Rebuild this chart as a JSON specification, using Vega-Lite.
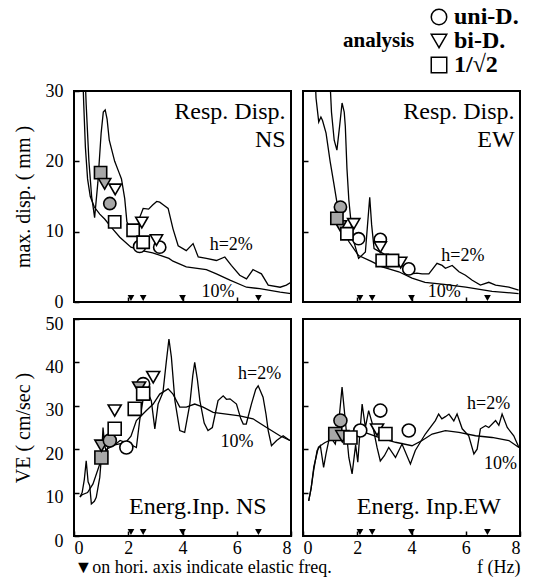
{
"$schema": "https://vega.github.io/schema/vega-lite/v6.json",
"padding": {"left": 12, "top": 4, "right": 4, "bottom": 0},
"background": "white",
"datasets": {
"lines": [
{"p":"NSd","h":"2%","f":0.38,"v":35},{"p":"NSd","h":"2%","f":0.45,"v":28},{"p":"NSd","h":"2%","f":0.55,"v":20},{"p":"NSd","h":"2%","f":0.65,"v":15},{"p":"NSd","h":"2%","f":0.76,"v":12},{"p":"NSd","h":"2%","f":0.88,"v":17},{"p":"NSd","h":"2%","f":1.0,"v":24},{"p":"NSd","h":"2%","f":1.08,"v":27},{"p":"NSd","h":"2%","f":1.15,"v":27.3},{"p":"NSd","h":"2%","f":1.22,"v":26},{"p":"NSd","h":"2%","f":1.3,"v":23},{"p":"NSd","h":"2%","f":1.5,"v":20},{"p":"NSd","h":"2%","f":1.65,"v":18.5},{"p":"NSd","h":"2%","f":1.75,"v":17.5},{"p":"NSd","h":"2%","f":1.87,"v":14.7},{"p":"NSd","h":"2%","f":1.95,"v":11.4},{"p":"NSd","h":"2%","f":2.1,"v":10.2},{"p":"NSd","h":"2%","f":2.3,"v":9.8},{"p":"NSd","h":"2%","f":2.42,"v":12},{"p":"NSd","h":"2%","f":2.55,"v":13.3},{"p":"NSd","h":"2%","f":2.75,"v":13.2},{"p":"NSd","h":"2%","f":2.9,"v":13.8},{"p":"NSd","h":"2%","f":3.05,"v":14.3},{"p":"NSd","h":"2%","f":3.16,"v":14.2},{"p":"NSd","h":"2%","f":3.3,"v":13.8},{"p":"NSd","h":"2%","f":3.47,"v":13.3},{"p":"NSd","h":"2%","f":3.65,"v":10.4},{"p":"NSd","h":"2%","f":3.84,"v":8.0},{"p":"NSd","h":"2%","f":4.14,"v":7.3},{"p":"NSd","h":"2%","f":4.39,"v":8.3},{"p":"NSd","h":"2%","f":4.58,"v":6.4},{"p":"NSd","h":"2%","f":4.88,"v":6.2},{"p":"NSd","h":"2%","f":5.25,"v":5.9},{"p":"NSd","h":"2%","f":5.56,"v":6.4},{"p":"NSd","h":"2%","f":5.8,"v":5.2},{"p":"NSd","h":"2%","f":6.11,"v":3.8},{"p":"NSd","h":"2%","f":6.36,"v":3.3},{"p":"NSd","h":"2%","f":6.6,"v":4.6},{"p":"NSd","h":"2%","f":6.91,"v":4.0},{"p":"NSd","h":"2%","f":7.16,"v":2.4},{"p":"NSd","h":"2%","f":7.6,"v":2.1},{"p":"NSd","h":"2%","f":7.83,"v":2.4},{"p":"NSd","h":"2%","f":8.0,"v":2.8},
{"p":"NSd","h":"10%","f":0.3,"v":35},{"p":"NSd","h":"10%","f":0.36,"v":28},{"p":"NSd","h":"10%","f":0.42,"v":22},{"p":"NSd","h":"10%","f":0.5,"v":17.5},{"p":"NSd","h":"10%","f":0.6,"v":15},{"p":"NSd","h":"10%","f":0.75,"v":13.5},{"p":"NSd","h":"10%","f":0.95,"v":12.5},{"p":"NSd","h":"10%","f":1.13,"v":11.8},{"p":"NSd","h":"10%","f":1.4,"v":10.5},{"p":"NSd","h":"10%","f":1.69,"v":9.2},{"p":"NSd","h":"10%","f":2.1,"v":7.8},{"p":"NSd","h":"10%","f":2.5,"v":7.3},{"p":"NSd","h":"10%","f":2.9,"v":7.0},{"p":"NSd","h":"10%","f":3.5,"v":6.2},{"p":"NSd","h":"10%","f":3.65,"v":5.8},{"p":"NSd","h":"10%","f":4.14,"v":5.0},{"p":"NSd","h":"10%","f":4.88,"v":4.6},{"p":"NSd","h":"10%","f":5.25,"v":4.0},{"p":"NSd","h":"10%","f":5.75,"v":3.1},{"p":"NSd","h":"10%","f":6.36,"v":2.1},{"p":"NSd","h":"10%","f":6.85,"v":1.9},{"p":"NSd","h":"10%","f":7.6,"v":1.4},{"p":"NSd","h":"10%","f":8.0,"v":1.2},
{"p":"EWd","h":"10%","f":0.42,"v":35},{"p":"EWd","h":"10%","f":0.48,"v":29},{"p":"EWd","h":"10%","f":0.58,"v":25.6},{"p":"EWd","h":"10%","f":0.66,"v":26.3},{"p":"EWd","h":"10%","f":0.72,"v":25.8},{"p":"EWd","h":"10%","f":0.85,"v":24},{"p":"EWd","h":"10%","f":1.0,"v":20},{"p":"EWd","h":"10%","f":1.13,"v":17},{"p":"EWd","h":"10%","f":1.3,"v":13},{"p":"EWd","h":"10%","f":1.45,"v":11},{"p":"EWd","h":"10%","f":1.69,"v":8.6},{"p":"EWd","h":"10%","f":2.05,"v":6.6},{"p":"EWd","h":"10%","f":2.5,"v":5.8},{"p":"EWd","h":"10%","f":2.92,"v":5.0},{"p":"EWd","h":"10%","f":3.53,"v":4.3},{"p":"EWd","h":"10%","f":4.02,"v":3.4},{"p":"EWd","h":"10%","f":4.5,"v":2.8},{"p":"EWd","h":"10%","f":5.2,"v":2.5},{"p":"EWd","h":"10%","f":6.0,"v":2.1},{"p":"EWd","h":"10%","f":6.97,"v":1.5},{"p":"EWd","h":"10%","f":7.95,"v":1.2},
{"p":"EWd","h":"2%","f":0.95,"v":35},{"p":"EWd","h":"2%","f":1.05,"v":27},{"p":"EWd","h":"2%","f":1.15,"v":23},{"p":"EWd","h":"2%","f":1.25,"v":21.6},{"p":"EWd","h":"2%","f":1.35,"v":25},{"p":"EWd","h":"2%","f":1.44,"v":28.3},{"p":"EWd","h":"2%","f":1.52,"v":27},{"p":"EWd","h":"2%","f":1.56,"v":25},{"p":"EWd","h":"2%","f":1.62,"v":19},{"p":"EWd","h":"2%","f":1.69,"v":14.5},{"p":"EWd","h":"2%","f":1.78,"v":11},{"p":"EWd","h":"2%","f":1.88,"v":8.5},{"p":"EWd","h":"2%","f":2.05,"v":6.2},{"p":"EWd","h":"2%","f":2.3,"v":7.1},{"p":"EWd","h":"2%","f":2.38,"v":11},{"p":"EWd","h":"2%","f":2.46,"v":14.9},{"p":"EWd","h":"2%","f":2.53,"v":11},{"p":"EWd","h":"2%","f":2.62,"v":7.6},{"p":"EWd","h":"2%","f":2.8,"v":7.2},{"p":"EWd","h":"2%","f":3.0,"v":6.8},{"p":"EWd","h":"2%","f":3.3,"v":6.5},{"p":"EWd","h":"2%","f":3.6,"v":5.5},{"p":"EWd","h":"2%","f":3.8,"v":4.5},{"p":"EWd","h":"2%","f":4.0,"v":4.0},{"p":"EWd","h":"2%","f":4.2,"v":4.1},{"p":"EWd","h":"2%","f":4.39,"v":4.0},{"p":"EWd","h":"2%","f":4.64,"v":4.0},{"p":"EWd","h":"2%","f":4.94,"v":5.5},{"p":"EWd","h":"2%","f":5.13,"v":5.2},{"p":"EWd","h":"2%","f":5.25,"v":4.8},{"p":"EWd","h":"2%","f":5.5,"v":5.2},{"p":"EWd","h":"2%","f":5.75,"v":4.3},{"p":"EWd","h":"2%","f":5.99,"v":3.8},{"p":"EWd","h":"2%","f":6.24,"v":3.1},{"p":"EWd","h":"2%","f":6.54,"v":2.4},{"p":"EWd","h":"2%","f":6.85,"v":2.8},{"p":"EWd","h":"2%","f":7.1,"v":2.4},{"p":"EWd","h":"2%","f":7.59,"v":2.1},{"p":"EWd","h":"2%","f":7.95,"v":1.7},
{"p":"NSe","h":"2%","f":0.22,"v":9},{"p":"NSe","h":"2%","f":0.3,"v":10},{"p":"NSe","h":"2%","f":0.38,"v":13},{"p":"NSe","h":"2%","f":0.45,"v":17.3},{"p":"NSe","h":"2%","f":0.52,"v":12.5},{"p":"NSe","h":"2%","f":0.58,"v":11.6},{"p":"NSe","h":"2%","f":0.64,"v":7.4},{"p":"NSe","h":"2%","f":0.75,"v":8},{"p":"NSe","h":"2%","f":0.82,"v":8.9},{"p":"NSe","h":"2%","f":0.95,"v":13.5},{"p":"NSe","h":"2%","f":1.02,"v":19},{"p":"NSe","h":"2%","f":1.07,"v":25},{"p":"NSe","h":"2%","f":1.13,"v":21},{"p":"NSe","h":"2%","f":1.2,"v":19},{"p":"NSe","h":"2%","f":1.32,"v":22.7},{"p":"NSe","h":"2%","f":1.5,"v":21},{"p":"NSe","h":"2%","f":1.7,"v":22},{"p":"NSe","h":"2%","f":1.9,"v":21.5},{"p":"NSe","h":"2%","f":2.05,"v":21.2},{"p":"NSe","h":"2%","f":2.3,"v":20.4},{"p":"NSe","h":"2%","f":2.42,"v":26.6},{"p":"NSe","h":"2%","f":2.6,"v":33.5},{"p":"NSe","h":"2%","f":2.72,"v":33},{"p":"NSe","h":"2%","f":2.85,"v":31.2},{"p":"NSe","h":"2%","f":2.98,"v":24.7},{"p":"NSe","h":"2%","f":3.1,"v":30.4},{"p":"NSe","h":"2%","f":3.28,"v":33.1},{"p":"NSe","h":"2%","f":3.4,"v":40},{"p":"NSe","h":"2%","f":3.5,"v":45.4},{"p":"NSe","h":"2%","f":3.59,"v":41.2},{"p":"NSe","h":"2%","f":3.72,"v":31.2},{"p":"NSe","h":"2%","f":3.9,"v":24.3},{"p":"NSe","h":"2%","f":4.08,"v":23.9},{"p":"NSe","h":"2%","f":4.27,"v":30.4},{"p":"NSe","h":"2%","f":4.38,"v":37},{"p":"NSe","h":"2%","f":4.45,"v":40.0},{"p":"NSe","h":"2%","f":4.55,"v":36},{"p":"NSe","h":"2%","f":4.64,"v":31.2},{"p":"NSe","h":"2%","f":4.8,"v":26},{"p":"NSe","h":"2%","f":4.94,"v":24.3},{"p":"NSe","h":"2%","f":5.1,"v":25},{"p":"NSe","h":"2%","f":5.31,"v":31.2},{"p":"NSe","h":"2%","f":5.5,"v":32.3},{"p":"NSe","h":"2%","f":5.62,"v":31.5},{"p":"NSe","h":"2%","f":5.75,"v":31.6},{"p":"NSe","h":"2%","f":5.99,"v":30.4},{"p":"NSe","h":"2%","f":6.15,"v":27},{"p":"NSe","h":"2%","f":6.24,"v":25.8},{"p":"NSe","h":"2%","f":6.35,"v":25.8},{"p":"NSe","h":"2%","f":6.54,"v":30.4},{"p":"NSe","h":"2%","f":6.7,"v":33.8},{"p":"NSe","h":"2%","f":6.79,"v":34.6},{"p":"NSe","h":"2%","f":6.97,"v":32.0},{"p":"NSe","h":"2%","f":7.08,"v":28},{"p":"NSe","h":"2%","f":7.16,"v":24.3},{"p":"NSe","h":"2%","f":7.28,"v":20.8},{"p":"NSe","h":"2%","f":7.47,"v":22.0},{"p":"NSe","h":"2%","f":7.71,"v":23.1},{"p":"NSe","h":"2%","f":7.96,"v":22.0},
{"p":"NSe","h":"10%","f":0.22,"v":9},{"p":"NSe","h":"10%","f":0.3,"v":9.5},{"p":"NSe","h":"10%","f":0.5,"v":10},{"p":"NSe","h":"10%","f":0.7,"v":12},{"p":"NSe","h":"10%","f":0.95,"v":16.6},{"p":"NSe","h":"10%","f":1.2,"v":20},{"p":"NSe","h":"10%","f":1.5,"v":21},{"p":"NSe","h":"10%","f":1.9,"v":21.5},{"p":"NSe","h":"10%","f":2.1,"v":23},{"p":"NSe","h":"10%","f":2.3,"v":26.6},{"p":"NSe","h":"10%","f":2.67,"v":28.9},{"p":"NSe","h":"10%","f":2.92,"v":30.4},{"p":"NSe","h":"10%","f":3.16,"v":32.7},{"p":"NSe","h":"10%","f":3.47,"v":33.9},{"p":"NSe","h":"10%","f":3.65,"v":32.7},{"p":"NSe","h":"10%","f":3.9,"v":29.7},{"p":"NSe","h":"10%","f":4.14,"v":29.7},{"p":"NSe","h":"10%","f":4.45,"v":30.4},{"p":"NSe","h":"10%","f":4.76,"v":29.7},{"p":"NSe","h":"10%","f":5.13,"v":28.5},{"p":"NSe","h":"10%","f":5.62,"v":28.1},{"p":"NSe","h":"10%","f":6.11,"v":27.7},{"p":"NSe","h":"10%","f":6.6,"v":27.0},{"p":"NSe","h":"10%","f":7.1,"v":25.0},{"p":"NSe","h":"10%","f":7.59,"v":23.1},{"p":"NSe","h":"10%","f":7.96,"v":22.0},
{"p":"EWe","h":"2%","f":0.21,"v":8.1},{"p":"EWe","h":"2%","f":0.3,"v":11},{"p":"EWe","h":"2%","f":0.39,"v":15.0},{"p":"EWe","h":"2%","f":0.52,"v":19.7},{"p":"EWe","h":"2%","f":0.64,"v":20.8},{"p":"EWe","h":"2%","f":0.76,"v":15.8},{"p":"EWe","h":"2%","f":0.85,"v":19},{"p":"EWe","h":"2%","f":0.95,"v":22.0},{"p":"EWe","h":"2%","f":1.05,"v":22.5},{"p":"EWe","h":"2%","f":1.19,"v":21.2},{"p":"EWe","h":"2%","f":1.3,"v":25},{"p":"EWe","h":"2%","f":1.44,"v":34.3},{"p":"EWe","h":"2%","f":1.56,"v":26.6},{"p":"EWe","h":"2%","f":1.69,"v":18.1},{"p":"EWe","h":"2%","f":1.81,"v":14.3},{"p":"EWe","h":"2%","f":1.94,"v":21},{"p":"EWe","h":"2%","f":2.02,"v":17},{"p":"EWe","h":"2%","f":2.1,"v":24},{"p":"EWe","h":"2%","f":2.18,"v":30.4},{"p":"EWe","h":"2%","f":2.3,"v":25},{"p":"EWe","h":"2%","f":2.42,"v":28.9},{"p":"EWe","h":"2%","f":2.55,"v":26},{"p":"EWe","h":"2%","f":2.73,"v":20.4},{"p":"EWe","h":"2%","f":2.85,"v":17.3},{"p":"EWe","h":"2%","f":3.0,"v":18.5},{"p":"EWe","h":"2%","f":3.16,"v":20.4},{"p":"EWe","h":"2%","f":3.41,"v":18.1},{"p":"EWe","h":"2%","f":3.65,"v":21.2},{"p":"EWe","h":"2%","f":3.96,"v":16.6},{"p":"EWe","h":"2%","f":4.14,"v":19.7},{"p":"EWe","h":"2%","f":4.51,"v":23.5},{"p":"EWe","h":"2%","f":4.88,"v":26.6},{"p":"EWe","h":"2%","f":5.0,"v":28.1},{"p":"EWe","h":"2%","f":5.12,"v":27},{"p":"EWe","h":"2%","f":5.25,"v":27.5},{"p":"EWe","h":"2%","f":5.38,"v":28.1},{"p":"EWe","h":"2%","f":5.56,"v":26.5},{"p":"EWe","h":"2%","f":5.68,"v":28.1},{"p":"EWe","h":"2%","f":5.87,"v":24.7},{"p":"EWe","h":"2%","f":6.11,"v":23.1},{"p":"EWe","h":"2%","f":6.3,"v":18.9},{"p":"EWe","h":"2%","f":6.42,"v":20},{"p":"EWe","h":"2%","f":6.54,"v":24.7},{"p":"EWe","h":"2%","f":6.73,"v":25.4},{"p":"EWe","h":"2%","f":6.85,"v":25},{"p":"EWe","h":"2%","f":7.1,"v":26.6},{"p":"EWe","h":"2%","f":7.22,"v":25.5},{"p":"EWe","h":"2%","f":7.34,"v":28.1},{"p":"EWe","h":"2%","f":7.53,"v":25.0},{"p":"EWe","h":"2%","f":7.77,"v":23.1},{"p":"EWe","h":"2%","f":7.96,"v":20.4},
{"p":"EWe","h":"10%","f":0.21,"v":8.1},{"p":"EWe","h":"10%","f":0.3,"v":11},{"p":"EWe","h":"10%","f":0.4,"v":16},{"p":"EWe","h":"10%","f":0.57,"v":20.5},{"p":"EWe","h":"10%","f":0.8,"v":21.5},{"p":"EWe","h":"10%","f":1.19,"v":22.7},{"p":"EWe","h":"10%","f":1.5,"v":23.5},{"p":"EWe","h":"10%","f":1.93,"v":24.3},{"p":"EWe","h":"10%","f":2.3,"v":23.8},{"p":"EWe","h":"10%","f":2.79,"v":22.7},{"p":"EWe","h":"10%","f":3.41,"v":21.6},{"p":"EWe","h":"10%","f":4.02,"v":20.8},{"p":"EWe","h":"10%","f":4.39,"v":22.0},{"p":"EWe","h":"10%","f":4.76,"v":23.5},{"p":"EWe","h":"10%","f":5.25,"v":24.3},{"p":"EWe","h":"10%","f":5.75,"v":23.9},{"p":"EWe","h":"10%","f":6.36,"v":23.1},{"p":"EWe","h":"10%","f":6.97,"v":22.7},{"p":"EWe","h":"10%","f":7.59,"v":22.0},{"p":"EWe","h":"10%","f":7.96,"v":20.4}
],
"pts": [
{"p":"NSd","a":"uni-D.","g":"open","f":2.42,"v":7.9},{"p":"NSd","a":"uni-D.","g":"open","f":3.16,"v":7.8},{"p":"NSd","a":"1/√2","g":"grey","f":0.98,"v":18.4},{"p":"NSd","a":"bi-D.","g":"grey","f":1.13,"v":16.8},{"p":"NSd","a":"bi-D.","g":"open","f":1.52,"v":16.0},{"p":"NSd","a":"uni-D.","g":"grey","f":1.32,"v":14.0},{"p":"NSd","a":"1/√2","g":"open","f":1.5,"v":11.4},{"p":"NSd","a":"bi-D.","g":"open","f":2.5,"v":11.3},{"p":"NSd","a":"1/√2","g":"open","f":2.18,"v":10.2},{"p":"NSd","a":"bi-D.","g":"open","f":3.04,"v":8.8},{"p":"NSd","a":"1/√2","g":"open","f":2.55,"v":8.5},
{"p":"EWd","a":"uni-D.","g":"grey","f":1.38,"v":13.5},{"p":"EWd","a":"bi-D.","g":"grey","f":1.38,"v":10.8},{"p":"EWd","a":"1/√2","g":"grey","f":1.25,"v":11.9},{"p":"EWd","a":"uni-D.","g":"open","f":2.05,"v":9.0},{"p":"EWd","a":"bi-D.","g":"open","f":1.87,"v":11.1},{"p":"EWd","a":"1/√2","g":"open","f":1.62,"v":9.7},{"p":"EWd","a":"uni-D.","g":"open","f":2.85,"v":8.9},{"p":"EWd","a":"bi-D.","g":"open","f":2.85,"v":7.8},{"p":"EWd","a":"uni-D.","g":"open","f":3.9,"v":4.7},{"p":"EWd","a":"bi-D.","g":"open","f":3.6,"v":5.6},{"p":"EWd","a":"1/√2","g":"open","f":2.92,"v":5.9},{"p":"EWd","a":"1/√2","g":"open","f":3.3,"v":5.9},
{"p":"NSe","a":"1/√2","g":"grey","f":1.01,"v":18.1},{"p":"NSe","a":"bi-D.","g":"grey","f":1.01,"v":20.8},{"p":"NSe","a":"uni-D.","g":"grey","f":1.32,"v":22.0},{"p":"NSe","a":"uni-D.","g":"open","f":1.93,"v":20.4},{"p":"NSe","a":"1/√2","g":"open","f":1.5,"v":24.7},{"p":"NSe","a":"bi-D.","g":"open","f":1.5,"v":28.9},{"p":"NSe","a":"1/√2","g":"open","f":2.24,"v":29.3},{"p":"NSe","a":"uni-D.","g":"open","f":2.55,"v":35.0},{"p":"NSe","a":"bi-D.","g":"grey","f":2.4,"v":34.2},{"p":"NSe","a":"1/√2","g":"open","f":2.55,"v":32.8},{"p":"NSe","a":"bi-D.","g":"open","f":2.92,"v":36.6},
{"p":"EWe","a":"uni-D.","g":"grey","f":1.38,"v":26.6},{"p":"EWe","a":"1/√2","g":"grey","f":1.19,"v":23.5},{"p":"EWe","a":"bi-D.","g":"grey","f":1.45,"v":23.0},{"p":"EWe","a":"uni-D.","g":"open","f":2.11,"v":24.3},{"p":"EWe","a":"1/√2","g":"open","f":1.75,"v":22.7},{"p":"EWe","a":"uni-D.","g":"open","f":2.85,"v":28.9},{"p":"EWe","a":"bi-D.","g":"open","f":2.73,"v":24.5},{"p":"EWe","a":"1/√2","g":"open","f":3.04,"v":23.5},{"p":"EWe","a":"uni-D.","g":"open","f":3.9,"v":24.3}
],
"el": [{"f":2.1},{"f":2.55},{"f":4.0},{"f":6.8}],
"tt": [
{"p":"NSd","t":"Resp. Disp.","f":7.8,"v":26},{"p":"NSd","t":"NS","f":7.8,"v":22},
{"p":"EWd","t":"Resp. Disp.","f":7.8,"v":26},{"p":"EWd","t":"EW","f":7.8,"v":22},
{"p":"NSe","t":"Energ.Inp. NS","f":7.1,"v":5.1},
{"p":"EWe","t":"Energ. Inp.EW","f":7.3,"v":5.1}
],
"hl": [
{"p":"NSd","t":"h=2%","f":5.0,"v":7.4},{"p":"NSd","t":"10%","f":4.7,"v":0.7},
{"p":"EWd","t":"h=2%","f":5.1,"v":5.9},{"p":"EWd","t":"10%","f":4.6,"v":0.7},
{"p":"NSe","t":"h=2%","f":6.05,"v":36.2},{"p":"NSe","t":"10%","f":5.4,"v":20.4},
{"p":"EWe","t":"h=2%","f":6.05,"v":29.3},{"p":"EWe","t":"10%","f":6.67,"v":15.4}
]
},
"vconcat": [
{"hconcat": [
{"width":217,"height":211,
"layer":[
{"data":{"name":"lines"},"transform":[{"filter":"datum.p==='NSd'"}],"mark":{"type":"line","stroke":"black","strokeWidth":1.3,"clip":true},
"encoding":{"x":{"field":"f","type":"quantitative","scale":{"domain":[0,8],"nice":false},"axis":{"values":[2,4,6],"labels":false,"title":null}},
"y":{"field":"v","type":"quantitative","scale":{"domain":[0,30],"nice":false},"axis":{"values":[0,10,20,30],"title":"max. disp.  ( mm )"}},
"detail":{"field":"h","type":"nominal"}}},
{"data":{"name":"pts"},"transform":[{"filter":"datum.p==='NSd'"}],"mark":{"type":"point","filled":true,"stroke":"black","strokeWidth":1.6,"size":150,"opacity":1},
"encoding":{"x":{"field":"f","type":"quantitative"},"y":{"field":"v","type":"quantitative"},
"shape":{"field":"a","type":"nominal","scale":{"domain":["uni-D.","bi-D.","1/√2"],"range":["circle","triangle-down","square"]},"legend":null},
"fill":{"field":"g","type":"nominal","scale":{"domain":["grey","open"],"range":["#a8a8a8","white"]},"legend":null}}},
{"data":{"name":"el"},"mark":{"type":"point","shape":"triangle-down","filled":true,"color":"black","size":45,"opacity":1,"yOffset":-4},
"encoding":{"x":{"field":"f","type":"quantitative"},"y":{"datum":0,"type":"quantitative"}}},
{"data":{"name":"tt"},"transform":[{"filter":"datum.p==='NSd'"}],"mark":{"type":"text","align":"right","baseline":"alphabetic","font":"Liberation Serif","fontSize":24,"color":"black"},
"encoding":{"x":{"field":"f","type":"quantitative"},"y":{"field":"v","type":"quantitative"},"text":{"field":"t"}}},
{"data":{"name":"hl"},"transform":[{"filter":"datum.p==='NSd'"}],"mark":{"type":"text","align":"left","baseline":"alphabetic","font":"Liberation Sans Narrow","fontSize":18,"color":"black"},
"encoding":{"x":{"field":"f","type":"quantitative"},"y":{"field":"v","type":"quantitative"},"text":{"field":"t"}}}
]},
{"width":217,"height":211,
"layer":[
{"data":{"name":"lines"},"transform":[{"filter":"datum.p==='EWd'"}],"mark":{"type":"line","stroke":"black","strokeWidth":1.3,"clip":true},
"encoding":{"x":{"field":"f","type":"quantitative","scale":{"domain":[0,8],"nice":false},"axis":{"values":[2,4,6],"labels":false,"title":null}},
"y":{"field":"v","type":"quantitative","scale":{"domain":[0,30],"nice":false},"axis":{"values":[10,20],"labels":false,"title":null}},
"detail":{"field":"h","type":"nominal"}}},
{"data":{"name":"pts"},"transform":[{"filter":"datum.p==='EWd'"}],"mark":{"type":"point","filled":true,"stroke":"black","strokeWidth":1.6,"size":150,"opacity":1},
"encoding":{"x":{"field":"f","type":"quantitative"},"y":{"field":"v","type":"quantitative"},
"shape":{"field":"a","type":"nominal","scale":{"domain":["uni-D.","bi-D.","1/√2"],"range":["circle","triangle-down","square"]},
"legend":{"orient":"none","legendX":40,"legendY":-86,"title":"analysis","titleOrient":"left","titleAnchor":"middle","titleBaseline":"middle","titlePadding":12,"titleFont":"Liberation Serif","titleFontSize":21,"titleFontWeight":"bold","titleColor":"black","labelFont":"Liberation Serif","labelFontSize":24,"labelFontWeight":"bold","labelColor":"black","labelOffset":3,"symbolSize":240,"symbolFillColor":"white","symbolStrokeColor":"black","symbolStrokeWidth":1.5,"rowPadding":0}},
"fill":{"field":"g","type":"nominal","scale":{"domain":["grey","open"],"range":["#a8a8a8","white"]},"legend":null}}},
{"data":{"name":"el"},"mark":{"type":"point","shape":"triangle-down","filled":true,"color":"black","size":45,"opacity":1,"yOffset":-4},
"encoding":{"x":{"field":"f","type":"quantitative"},"y":{"datum":0,"type":"quantitative"}}},
{"data":{"name":"tt"},"transform":[{"filter":"datum.p==='EWd'"}],"mark":{"type":"text","align":"right","baseline":"alphabetic","font":"Liberation Serif","fontSize":24,"color":"black"},
"encoding":{"x":{"field":"f","type":"quantitative"},"y":{"field":"v","type":"quantitative"},"text":{"field":"t"}}},
{"data":{"name":"hl"},"transform":[{"filter":"datum.p==='EWd'"}],"mark":{"type":"text","align":"left","baseline":"alphabetic","font":"Liberation Sans Narrow","fontSize":18,"color":"black"},
"encoding":{"x":{"field":"f","type":"quantitative"},"y":{"field":"v","type":"quantitative"},"text":{"field":"t"}}}
]}
],
"spacing": 12,
"bounds": "flush",
"resolve":{"scale":{"x":"independent","y":"independent","shape":"independent","fill":"independent"}}},
{"hconcat": [
{"width":217,"height":217,
"layer":[
{"data":{"name":"lines"},"transform":[{"filter":"datum.p==='NSe'"}],"mark":{"type":"line","stroke":"black","strokeWidth":1.3,"clip":true},
"encoding":{"x":{"field":"f","type":"quantitative","scale":{"domain":[0,8],"nice":false},"axis":{"values":[0,2,4,6,8],"title":"▼on hori. axis indicate elastic freq.","titleAnchor":"start","titleAlign":"left"}},
"y":{"field":"v","type":"quantitative","scale":{"domain":[0,50],"nice":false},"axis":{"values":[0,10,20,30,40,50],"title":"VE  ( cm/sec )","labelOffset":5}},
"detail":{"field":"h","type":"nominal"}}},
{"data":{"name":"pts"},"transform":[{"filter":"datum.p==='NSe'"}],"mark":{"type":"point","filled":true,"stroke":"black","strokeWidth":1.6,"size":170,"opacity":1},
"encoding":{"x":{"field":"f","type":"quantitative"},"y":{"field":"v","type":"quantitative"},
"shape":{"field":"a","type":"nominal","scale":{"domain":["uni-D.","bi-D.","1/√2"],"range":["circle","triangle-down","square"]},"legend":null},
"fill":{"field":"g","type":"nominal","scale":{"domain":["grey","open"],"range":["#a8a8a8","white"]},"legend":null}}},
{"data":{"name":"el"},"mark":{"type":"point","shape":"triangle-down","filled":true,"color":"black","size":45,"opacity":1,"yOffset":-4},
"encoding":{"x":{"field":"f","type":"quantitative"},"y":{"datum":0,"type":"quantitative"}}},
{"data":{"name":"tt"},"transform":[{"filter":"datum.p==='NSe'"}],"mark":{"type":"text","align":"right","baseline":"alphabetic","font":"Liberation Serif","fontSize":24,"color":"black"},
"encoding":{"x":{"field":"f","type":"quantitative"},"y":{"field":"v","type":"quantitative"},"text":{"field":"t"}}},
{"data":{"name":"hl"},"transform":[{"filter":"datum.p==='NSe'"}],"mark":{"type":"text","align":"left","baseline":"alphabetic","font":"Liberation Sans Narrow","fontSize":18,"color":"black"},
"encoding":{"x":{"field":"f","type":"quantitative"},"y":{"field":"v","type":"quantitative"},"text":{"field":"t"}}}
]},
{"width":217,"height":217,
"layer":[
{"data":{"name":"lines"},"transform":[{"filter":"datum.p==='EWe'"}],"mark":{"type":"line","stroke":"black","strokeWidth":1.3,"clip":true},
"encoding":{"x":{"field":"f","type":"quantitative","scale":{"domain":[0,8],"nice":false},"axis":{"values":[0,2,4,6,8],"title":"f (Hz)","titleAnchor":"end","titleAlign":"right"}},
"y":{"field":"v","type":"quantitative","scale":{"domain":[0,50],"nice":false},"axis":{"values":[10,20,30,40],"labels":false,"title":null}},
"detail":{"field":"h","type":"nominal"}}},
{"data":{"name":"pts"},"transform":[{"filter":"datum.p==='EWe'"}],"mark":{"type":"point","filled":true,"stroke":"black","strokeWidth":1.6,"size":170,"opacity":1},
"encoding":{"x":{"field":"f","type":"quantitative"},"y":{"field":"v","type":"quantitative"},
"shape":{"field":"a","type":"nominal","scale":{"domain":["uni-D.","bi-D.","1/√2"],"range":["circle","triangle-down","square"]},"legend":null},
"fill":{"field":"g","type":"nominal","scale":{"domain":["grey","open"],"range":["#a8a8a8","white"]},"legend":null}}},
{"data":{"name":"el"},"mark":{"type":"point","shape":"triangle-down","filled":true,"color":"black","size":45,"opacity":1,"yOffset":-4},
"encoding":{"x":{"field":"f","type":"quantitative"},"y":{"datum":0,"type":"quantitative"}}},
{"data":{"name":"tt"},"transform":[{"filter":"datum.p==='EWe'"}],"mark":{"type":"text","align":"right","baseline":"alphabetic","font":"Liberation Serif","fontSize":24,"color":"black"},
"encoding":{"x":{"field":"f","type":"quantitative"},"y":{"field":"v","type":"quantitative"},"text":{"field":"t"}}},
{"data":{"name":"hl"},"transform":[{"filter":"datum.p==='EWe'"}],"mark":{"type":"text","align":"left","baseline":"alphabetic","font":"Liberation Sans Narrow","fontSize":18,"color":"black"},
"encoding":{"x":{"field":"f","type":"quantitative"},"y":{"field":"v","type":"quantitative"},"text":{"field":"t"}}}
]}
],
"spacing": 12,
"bounds": "flush",
"resolve":{"scale":{"x":"independent","y":"independent","shape":"independent","fill":"independent"}}}
],
"spacing": 2,
"resolve":{"scale":{"x":"independent","y":"independent","shape":"independent","fill":"independent"}},
"config": {
"font": "Liberation Serif",
"view": {"stroke": "black", "strokeWidth": 2},
"axis": {"domain": false, "grid": false, "minExtent": 0, "tickColor": "black", "tickWidth": 1.5, "tickSize": -5, "labelColor": "black", "labelFont": "Liberation Sans Narrow", "labelFontSize": 18, "labelPadding": 14, "titleColor": "black", "titleFont": "Liberation Serif", "titleFontSize": 19, "titleFontWeight": "normal", "titlePadding": 10},
"axisX": {"labelPadding": 8, "titlePadding": 1, "titleFontSize": 18},
"axisY": {"labelPadding": 16, "titleFontSize": 20, "titlePadding": 12}
}
}
